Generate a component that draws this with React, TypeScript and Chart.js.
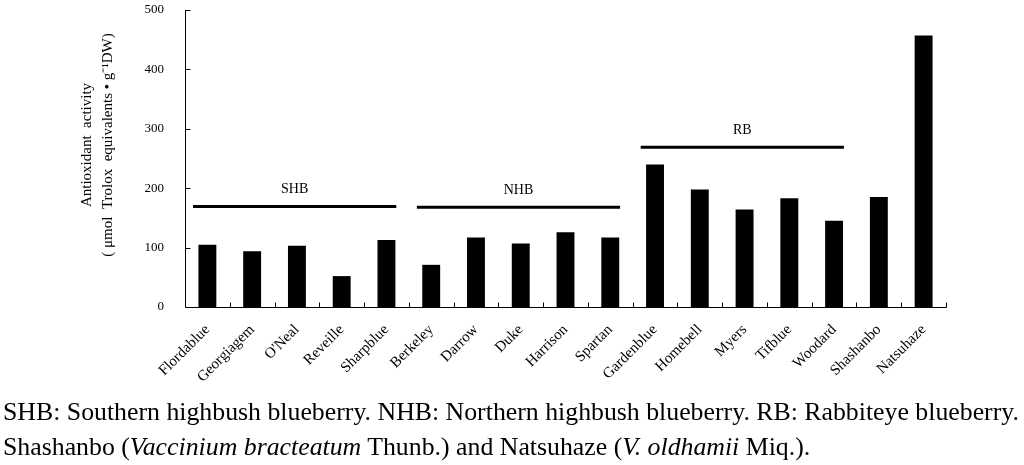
import React, { useEffect, useRef } from 'react';
import { Chart, registerables } from 'chart.js';

Chart.register(...registerables);

const categories = [
  'Flordablue', 'Georgiagem', "O'Neal", 'Reveille', 'Sharpblue',
  'Berkeley', 'Darrow', 'Duke', 'Harrison', 'Spartan',
  'Gardenblue', 'Homebell', 'Myers', 'Tifblue', 'Woodard',
  'Shashanbo', 'Natsuhaze',
];
const values = [105, 94, 103, 52, 113, 71, 117, 107, 126, 117, 240, 198, 164, 183, 145, 185, 457];
const yTicks = [0, 100, 200, 300, 400, 500];

const groupNames = ['SHB', 'NHB', 'RB'];
const groupLevels = [169, 168, 269];
const groupFirst = [0, 5, 10];
const groupLast = [4, 9, 14];

const yTitle = ['Antioxidant  activity', '( μmol  Trolox  equivalents • g⁻¹DW)'];
const captionLine1 = 'SHB: Southern highbush blueberry. NHB: Northern highbush blueberry. RB: Rabbiteye blueberry.';
const captionLine2Parts: [string, boolean][] = [
  ['Shashanbo (', false],
  ['Vaccinium bracteatum', true],
  [' Thunb.) and Natsuhaze (', false],
  ['V. oldhamii', true],
  [' Miq.).', false],
];

const SERIF = '"Liberation Serif", "Times New Roman", serif';

const decorPlugin = {
  id: 'decor',
  afterDraw(chart: any) {
    const { ctx, chartArea, scales } = chart;
    const x = scales.x;
    const y = scales.y;
    ctx.save();
    ctx.strokeStyle = '#000';
    ctx.lineWidth = 1;
    ctx.beginPath();
    const L = Math.round(chartArea.left) + 0.5;
    const B = Math.round(chartArea.bottom) + 0.5;
    const R = Math.round(chartArea.right) + 0.5;
    ctx.moveTo(L, Math.round(y.getPixelForValue(500)));
    ctx.lineTo(L, B);
    ctx.lineTo(R, B);
    yTicks.forEach((v) => {
      const py = Math.round(y.getPixelForValue(v)) + 0.5;
      ctx.moveTo(L, py);
      ctx.lineTo(L + 5, py);
    });
    for (let i = 1; i <= categories.length; i++) {
      const px = Math.round(x.getPixelForValue(i - 0.5)) + 0.5;
      ctx.moveTo(px, B);
      ctx.lineTo(px, B - 5);
    }
    ctx.stroke();

    // group bars with labels
    ctx.lineWidth = 3;
    ctx.fillStyle = '#000';
    ctx.font = `14px ${SERIF}`;
    ctx.textAlign = 'center';
    ctx.textBaseline = 'middle';
    groupNames.forEach((name, i) => {
      const x0 = x.getPixelForValue(groupFirst[i] - 0.32);
      const x1 = x.getPixelForValue(groupLast[i] + 0.22);
      const py = y.getPixelForValue(groupLevels[i]);
      ctx.beginPath();
      ctx.moveTo(x0, py);
      ctx.lineTo(x1, py);
      ctx.stroke();
      ctx.fillText(name, (x0 + x1) / 2, py - 17);
    });

    // y axis title (two lines, rotated)
    ctx.font = `15px ${SERIF}`;
    const cy = 145;
    yTitle.forEach((line, i) => {
      ctx.save();
      ctx.translate(87 + i * 21, cy);
      ctx.rotate(-Math.PI / 2);
      ctx.fillText(line, 0, 0);
      ctx.restore();
    });
    ctx.restore();
  },
};

function BarChart() {
  const ref = useRef<HTMLCanvasElement | null>(null);
  useEffect(() => {
    if (!ref.current) return;
    const chart = new Chart(ref.current, {
      type: 'bar',
      data: {
        labels: categories,
        datasets: [
          {
            label: 'Antioxidant activity',
            data: values,
            backgroundColor: '#000',
            borderWidth: 0,
            barPercentage: 0.4,
            categoryPercentage: 1,
          },
        ],
      },
      options: {
        responsive: false,
        animation: false,
        layout: { padding: { top: 10, right: 78, left: 0, bottom: 0 } },
        plugins: { legend: { display: false }, tooltip: { enabled: false } },
        scales: {
          x: {
            grid: { display: false, drawTicks: false },
            border: { display: false },
            ticks: {
              font: { family: SERIF, size: 15 },
              color: '#000',
              maxRotation: 45,
              minRotation: 45,
              autoSkip: false,
              padding: 14,
            },
            afterFit: (s: any) => {
              s.height = 88;
              s.paddingLeft = 0;
              s.paddingRight = 0;
            },
          },
          y: {
            min: 0,
            max: 500,
            grid: { display: false, drawTicks: false },
            border: { display: false },
            ticks: {
              stepSize: 100,
              font: { family: SERIF, size: 13 },
              color: '#000',
              padding: 21,
            },
            afterFit: (s: any) => {
              s.width = 185;
              s.paddingTop = 8;
              s.paddingBottom = 0;
            },
          },
        },
      },
      plugins: [decorPlugin],
    });
    return () => chart.destroy();
  }, []);
  return <canvas ref={ref} width={1024} height={395} style={{ display: 'block', width: 1024, height: 395 }} />;
}

export default function App() {
  return (
    <div style={{ position: 'fixed', left: 0, top: 0, width: 1024, height: 465, background: '#fff', overflow: 'hidden' }}>
      <BarChart />
      <div
        style={{
          position: 'absolute',
          left: 3,
          top: 394,
          fontFamily: SERIF,
          fontSize: 25.8,
          lineHeight: '35px',
          whiteSpace: 'nowrap',
          color: '#000',
        }}
      >
        <div>{captionLine1}</div>
        <div>
          {captionLine2Parts.map(([t, it], i) => (it ? <i key={i}>{t}</i> : <span key={i}>{t}</span>))}
        </div>
      </div>
    </div>
  );
}
